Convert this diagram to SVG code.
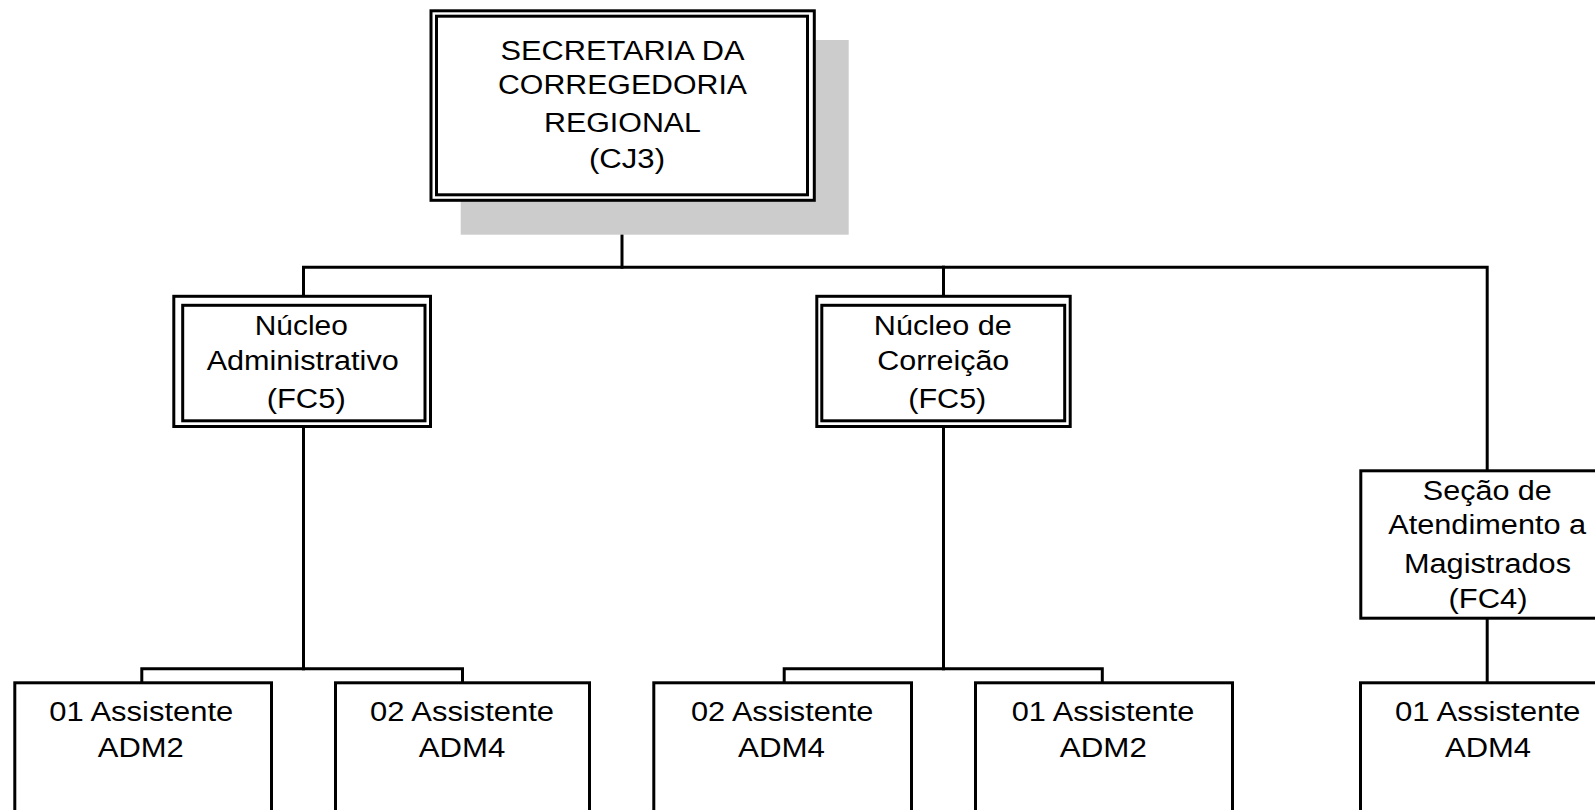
<svg xmlns="http://www.w3.org/2000/svg" width="1595" height="810" viewBox="0 0 1595 810">
  <style>
    .box { fill: #ffffff; stroke: #000000; stroke-width: 3; }
    .shadow { fill: #cccccc; stroke: none; }
    .conn { fill: none; stroke: #000000; stroke-width: 3; stroke-linecap: square; stroke-linejoin: miter; }
    text { font-family: "Liberation Sans", Arial, sans-serif; font-size: 27px; fill: #000000; text-anchor: middle; }
  </style>
  <rect width="1595" height="810" fill="#ffffff"/>

  <g id="connectors">
    <path class="conn" d="M622 200.3 V267.2"/>
    <path class="conn" d="M303.5 296.3 V267.2 H1487.2 V470.8"/>
    <path class="conn" d="M943.5 267.2 V296.3"/>
    <path class="conn" d="M303.5 426.5 V668.8"/>
    <path class="conn" d="M141.8 682.8 V668.8 H462.5 V682.8"/>
    <path class="conn" d="M943.5 426.5 V668.8"/>
    <path class="conn" d="M784.2 682.8 V668.8 H1102.3 V682.8"/>
    <path class="conn" d="M1487.2 618.2 V682.8"/>
  </g>

  <g id="secretaria">
    <rect class="shadow" x="460.7" y="40" width="388" height="194.7"/>
    <rect class="box" x="431" y="10.8" width="383.3" height="189.5"/>
    <rect class="box" x="436.5" y="16.2" width="371" height="178.6"/>
    <text x="622.5" y="60" textLength="244" lengthAdjust="spacingAndGlyphs">SECRETARIA DA</text>
    <text x="622.5" y="94.3" textLength="249" lengthAdjust="spacingAndGlyphs">CORREGEDORIA</text>
    <text x="622.5" y="132.3" textLength="157" lengthAdjust="spacingAndGlyphs">REGIONAL</text>
    <text x="627" y="168.3" textLength="76" lengthAdjust="spacingAndGlyphs">(CJ3)</text>
  </g>

  <g id="nucleo-administrativo">
    <rect class="box" x="173.8" y="296.3" width="256.7" height="130.2"/>
    <rect class="box" x="182.7" y="305.3" width="242.3" height="115.5"/>
    <text x="301.3" y="335" textLength="93" lengthAdjust="spacingAndGlyphs">Núcleo</text>
    <text x="302.7" y="370" textLength="192" lengthAdjust="spacingAndGlyphs">Administrativo</text>
    <text x="306.2" y="408.3" textLength="79" lengthAdjust="spacingAndGlyphs">(FC5)</text>
  </g>

  <g id="nucleo-correicao">
    <rect class="box" x="816.8" y="296.3" width="253.4" height="130.2"/>
    <rect class="box" x="821.8" y="305.3" width="242.9" height="115.5"/>
    <text x="942.8" y="335" textLength="138" lengthAdjust="spacingAndGlyphs">Núcleo de</text>
    <text x="943.3" y="370" textLength="132" lengthAdjust="spacingAndGlyphs">Correição</text>
    <text x="947.3" y="408.3" textLength="78" lengthAdjust="spacingAndGlyphs">(FC5)</text>
  </g>

  <g id="secao-atendimento">
    <rect class="box" x="1360.8" y="470.8" width="253" height="147.4"/>
    <text x="1487.3" y="500" textLength="129" lengthAdjust="spacingAndGlyphs">Seção de</text>
    <text x="1487.2" y="534" textLength="198" lengthAdjust="spacingAndGlyphs">Atendimento a</text>
    <text x="1487.5" y="573.3" textLength="167" lengthAdjust="spacingAndGlyphs">Magistrados</text>
    <text x="1488" y="607.7" textLength="79" lengthAdjust="spacingAndGlyphs">(FC4)</text>
  </g>

  <g id="assistente-1">
    <rect class="box" x="14.8" y="682.8" width="256.7" height="150"/>
    <text x="141.2" y="721.3" textLength="184" lengthAdjust="spacingAndGlyphs">01 Assistente</text>
    <text x="140.8" y="756.7" textLength="86" lengthAdjust="spacingAndGlyphs">ADM2</text>
  </g>

  <g id="assistente-2">
    <rect class="box" x="335.5" y="682.8" width="254" height="150"/>
    <text x="462" y="721.3" textLength="184" lengthAdjust="spacingAndGlyphs">02 Assistente</text>
    <text x="462" y="756.7" textLength="86.5" lengthAdjust="spacingAndGlyphs">ADM4</text>
  </g>

  <g id="assistente-3">
    <rect class="box" x="653.8" y="682.8" width="257.7" height="150"/>
    <text x="782.2" y="721.3" textLength="182.5" lengthAdjust="spacingAndGlyphs">02 Assistente</text>
    <text x="781.5" y="756.7" textLength="87" lengthAdjust="spacingAndGlyphs">ADM4</text>
  </g>

  <g id="assistente-4">
    <rect class="box" x="975.5" y="682.8" width="257" height="150"/>
    <text x="1103" y="721.3" textLength="182.5" lengthAdjust="spacingAndGlyphs">01 Assistente</text>
    <text x="1103.3" y="756.7" textLength="87" lengthAdjust="spacingAndGlyphs">ADM2</text>
  </g>

  <g id="assistente-5">
    <rect class="box" x="1360.5" y="682.8" width="254" height="150"/>
    <text x="1487.7" y="721.3" textLength="185.5" lengthAdjust="spacingAndGlyphs">01 Assistente</text>
    <text x="1488" y="756.7" textLength="86" lengthAdjust="spacingAndGlyphs">ADM4</text>
  </g>
</svg>
